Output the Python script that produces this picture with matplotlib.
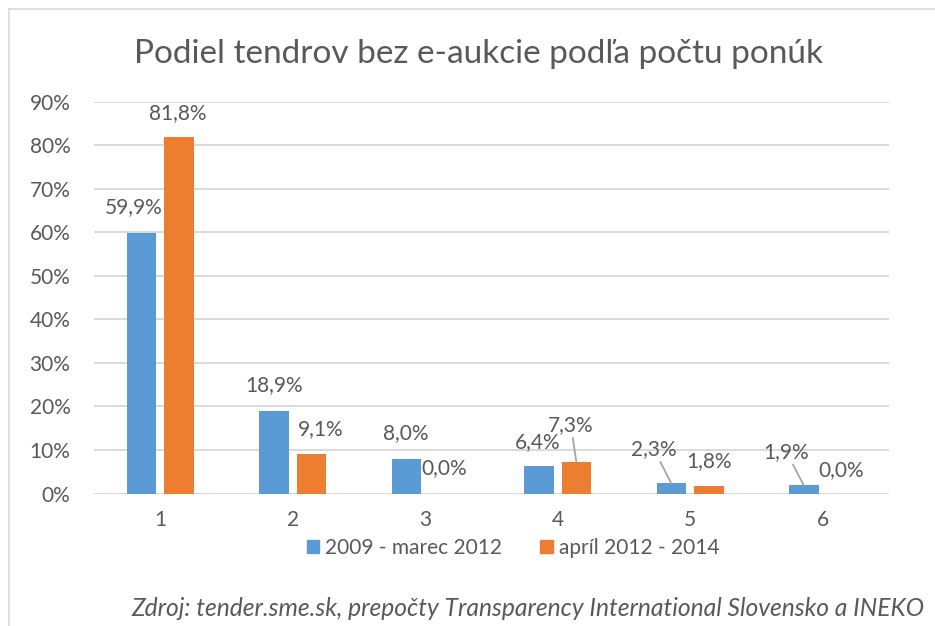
import matplotlib.pyplot as plt
import numpy as np
from matplotlib.patches import Patch
from matplotlib.lines import Line2D

plt.rcParams['font.family'] = ['Lato', 'DejaVu Sans']

# Data
categories = ["1", "2", "3", "4", "5", "6"]
series_names = ["2009 - marec 2012", "apríl 2012 - 2014"]
values_2009 = [59.9, 18.9, 8.0, 6.4, 2.3, 1.9]
values_2014 = [81.8, 9.1, 0.0, 7.3, 1.8, 0.0]
y_ticks = [0, 10, 20, 30, 40, 50, 60, 70, 80, 90]

# label placement (x offset from category, y in %) as moved by hand in the original
label_pos_2009 = [(-0.199, 65.7), (-0.141, 24.9), (-0.145, 13.9),
                  (-0.148, 11.9), (-0.273, 10.2), (-0.273, 9.6)]
label_pos_2014 = [(0.134, 87.3), (0.210, 14.7), (0.142, 5.8),
                  (0.101, 15.7), (0.142, 7.5), (0.143, 5.4)]
leader_2009 = [False, False, False, False, True, True]
leader_2014 = [False, False, False, True, False, False]

BLUE = "#5B9BD5"
ORANGE = "#ED7D31"
TEXT = "#595959"
GRID = "#D9D9D9"

W, H = 935, 626
fig = plt.figure(figsize=(W / 100, H / 100), dpi=100)
ax = fig.add_axes([94 / W, 1 - 493.5 / H, (888.7 - 94) / W, (493.5 - 101.7) / H])

x = np.arange(len(categories))
bw = 0.223
off = 0.1415
ax.bar(x - off, values_2009, bw, color=BLUE, zorder=2)
ax.bar(x + off, values_2014, bw, color=ORANGE, zorder=2)

ax.set_xlim(-0.5, len(categories) - 0.5)
ax.set_ylim(0, 90)
ax.set_yticks(y_ticks)
ax.set_yticklabels([f"{t}%" for t in y_ticks])
ax.set_xticks(x)
ax.set_xticklabels(categories)
ax.tick_params(length=0, labelsize=15, colors=TEXT)
ax.tick_params(axis="y", pad=17)
ax.tick_params(axis="x", pad=12)
ax.yaxis.grid(True, color=GRID, lw=1.4, zorder=0)
ax.set_axisbelow(True)
for s in ax.spines.values():
    s.set_visible(False)


def fmt(v):
    return f"{v:.1f}%".replace(".", ",")


def add_labels(vals, pos, leaders, shift):
    for i, v in enumerate(vals):
        lx, ly = i + pos[i][0], pos[i][1]
        if leaders[i]:
            ax.annotate(fmt(v), xy=(i + shift, v), xytext=(lx, ly),
                        ha="center", va="center", fontsize=15, color=TEXT,
                        arrowprops=dict(arrowstyle="-", color="#A6A6A6", lw=1.3,
                                        shrinkA=0, shrinkB=0))
        else:
            ax.text(lx, ly, fmt(v), ha="center", va="center", fontsize=15, color=TEXT)


add_labels(values_2009, label_pos_2009, leader_2009, -off)
add_labels(values_2014, label_pos_2014, leader_2014, off)

# Title
fig.text(478.5 / W, 1 - 63 / H, "Podiel tendrov bez e-aukcie podľa počtu ponúk",
         ha="center", va="baseline", fontsize=24, color=TEXT)

# Legend
handles = [Patch(color=BLUE), Patch(color=ORANGE)]
fig.legend(handles, series_names, loc="center", bbox_to_anchor=(513 / W, 1 - 548 / H),
           ncol=2, frameon=False, fontsize=15, labelcolor=TEXT,
           handlelength=0.6, handleheight=0.6, handletextpad=0.3, columnspacing=1.8)

# Source note
fig.text(131 / W, 1 - 616 / H,
         "Zdroj: tender.sme.sk, prepočty Transparency International Slovensko a INEKO",
         ha="left", va="baseline", fontsize=17.7, style="italic", color=TEXT)

# sheet border
fig.add_artist(Line2D([8.5 / W, 8.5 / W], [0, 1 - 9 / H], transform=fig.transFigure,
                      color=GRID, lw=1.2))
fig.add_artist(Line2D([8.5 / W, 1], [1 - 9 / H, 1 - 9 / H], transform=fig.transFigure,
                      color=GRID, lw=1.2))

fig.savefig("out.png", dpi=100)
